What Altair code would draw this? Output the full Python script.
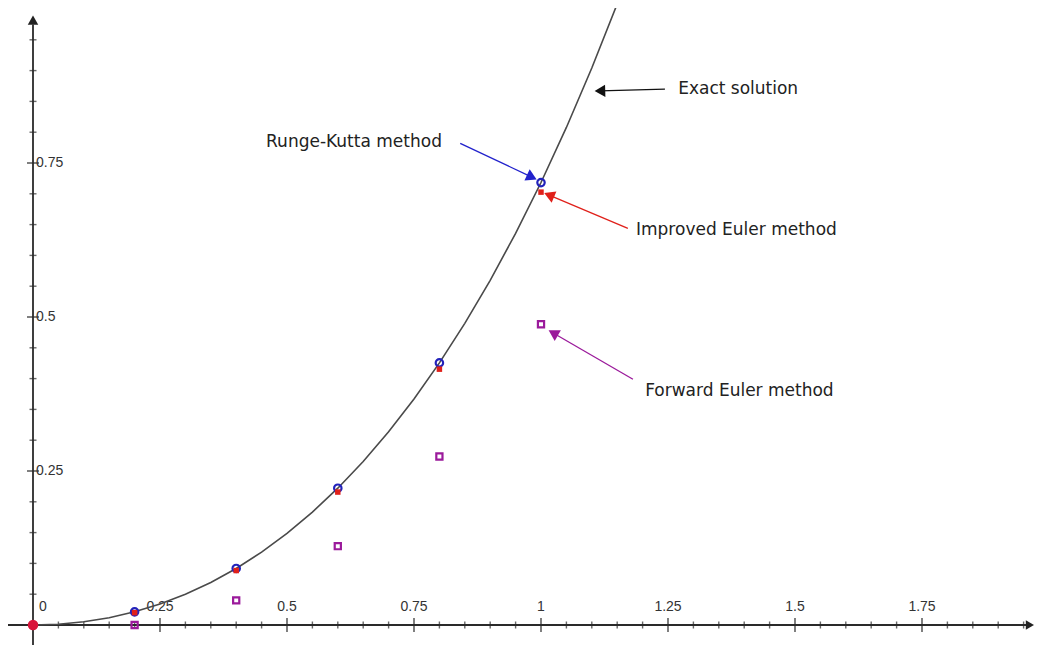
import math
import altair as alt
import pandas as pd
import numpy as np

# ---------------- data ----------------
curve_x = [0.0, 0.05, 0.1, 0.15, 0.2, 0.25, 0.3, 0.35, 0.4, 0.45, 0.5, 0.55,
           0.6, 0.65, 0.7, 0.75, 0.8, 0.85, 0.9, 0.95, 1.0, 1.05, 1.1, 1.15]
curve_y = [0.0, 0.0013, 0.0052, 0.0118, 0.0214, 0.034, 0.0499, 0.0691, 0.0918,
           0.1183, 0.1487, 0.1833, 0.2221, 0.2655, 0.3138, 0.367, 0.4255, 0.4897,
           0.5596, 0.6357, 0.7183, 0.8077, 0.9042, 1.0082]

step_x = [0.2, 0.4, 0.6, 0.8, 1.0]
rk_y = [0.0214, 0.0918, 0.2221, 0.4255, 0.7182]      # Runge-Kutta
ie_y = [0.0200, 0.0884, 0.2158, 0.4153, 0.7027]      # Improved Euler
fe_y = [0.0, 0.040, 0.128, 0.2736, 0.4883]           # Forward Euler

x_major = [0.25, 0.5, 0.75, 1.0, 1.25, 1.5, 1.75]
x_labels = ["0.25", "0.5", "0.75", "1", "1.25", "1.5", "1.75"]
y_major = [0.25, 0.5, 0.75]
y_labels = ["0.25", "0.5", "0.75"]

ann_text = ["Exact solution", "Runge-Kutta method", "Improved Euler method", "Forward Euler method"]
ann_color = ["#111111", "#2222cc", "#e0201a", "#9b1a9b"]
ann_tx = [1.270, 0.805, 1.187, 1.205]
ann_ty = [0.870, 0.784, 0.641, 0.380]
ann_align = ["left", "right", "left", "left"]
arr_x0 = [1.244, 0.841, 1.171, 1.181]
arr_y0 = [0.870, 0.782, 0.644, 0.399]
arr_x1 = [1.116, 0.982, 1.016, 1.024]
arr_y1 = [0.867, 0.727, 0.698, 0.474]

# ---------------- layout ----------------
W, H = 1026, 637
PX_X, PX_Y = 508.0, 616.0          # pixels per unit
XD = [-25 / PX_X, (W - 25) / PX_X]
YD = [-(H - 617) / PX_Y, 617 / PX_Y]
xs = alt.Scale(domain=XD, nice=False, zero=False)
ys = alt.Scale(domain=YD, nice=False, zero=False)
AX = "#2a2a2a"

def X(field="x"):
    return alt.X(f"{field}:Q", scale=xs, axis=None)

def Y(field="y"):
    return alt.Y(f"{field}:Q", scale=ys, axis=None)

# axes lines
xaxis = alt.Chart(pd.DataFrame({"x": [XD[0]], "x2": [XD[1] - 0.01], "y": [0.0]})).mark_rule(
    color=AX, strokeWidth=1.8).encode(x=X(), x2="x2:Q", y=Y())
yaxis = alt.Chart(pd.DataFrame({"x": [0.0], "y": [YD[0]], "y2": [0.975]})).mark_rule(
    color=AX, strokeWidth=1.8).encode(x=X(), y=Y(), y2="y2:Q")
yarrow = alt.Chart(pd.DataFrame({"x": [0.0], "y": [0.982]})).mark_point(
    shape="triangle-up", filled=True, color="#222222", size=110, opacity=1).encode(x=X(), y=Y())
xarrow = alt.Chart(pd.DataFrame({"x": [XD[1] - 0.008], "y": [0.0]})).mark_point(
    shape="triangle-right", filled=True, color="#222222", size=90, opacity=1).encode(x=X(), y=Y())

# ticks
minor = [round(v, 2) for v in np.arange(0.05, 1.96, 0.05)]
x_minor = [v for v in minor if abs(v / 0.25 - round(v / 0.25)) > 1e-6]
y_minor = [v for v in minor if v < 0.97 and abs(v / 0.25 - round(v / 0.25)) > 1e-6]

xminor = alt.Chart(pd.DataFrame({"x": x_minor, "y": 0.0})).mark_tick(
    orient="vertical", size=7, thickness=1.4, color=AX).encode(x=X(), y=Y())
xmajor = alt.Chart(pd.DataFrame({"x": x_major, "y": 0.0})).mark_tick(
    orient="vertical", size=14, thickness=1.7, color=AX).encode(x=X(), y=Y())
yminor = alt.Chart(pd.DataFrame({"x": 0.0, "y": y_minor})).mark_tick(
    orient="horizontal", size=7, thickness=1.4, color=AX).encode(x=X(), y=Y())
ymajor = alt.Chart(pd.DataFrame({"x": 0.0, "y": y_major})).mark_tick(
    orient="horizontal", size=12, thickness=1.7, color=AX).encode(x=X(), y=Y())

xlab = alt.Chart(pd.DataFrame({"x": x_major, "y": 0.0, "t": x_labels})).mark_text(
    dy=-18, fontSize=14, font="Liberation Sans", color="#333333", baseline="middle").encode(
    x=X(), y=Y(), text="t:N")
zerolab = alt.Chart(pd.DataFrame({"x": [0.0], "y": [0.0], "t": ["0"]})).mark_text(
    dx=10, dy=-18, fontSize=14, font="Liberation Sans", color="#333333", baseline="middle").encode(
    x=X(), y=Y(), text="t:N")
ylab = alt.Chart(pd.DataFrame({"x": 0.0, "y": y_major, "t": y_labels})).mark_text(
    dx=3, fontSize=14, font="Liberation Sans", color="#333333", align="left", baseline="middle").encode(
    x=X(), y=Y(), text="t:N")

# exact solution curve
curve = alt.Chart(pd.DataFrame({"x": curve_x, "y": curve_y})).mark_line(
    color="#4a4a4a", strokeWidth=1.6, clip=True).encode(x=X(), y=Y())

# numerical points
steps = pd.DataFrame({"x": step_x, "rk": rk_y, "ie": ie_y, "fe": fe_y})
fe = alt.Chart(steps).mark_point(shape="square", filled=False, color="#9b1a9b",
                                 size=38, strokeWidth=2.2, opacity=1).encode(x=X(), y=Y("fe"))
rk = alt.Chart(steps).mark_point(shape="circle", filled=False, color="#2222bb",
                                 size=55, strokeWidth=2.2, opacity=1).encode(x=X(), y=Y("rk"))
ie = alt.Chart(steps).mark_point(shape="square", filled=True, color="#e0201a",
                                 size=30, opacity=1).encode(x=X(), y=Y("ie"))
origin = alt.Chart(pd.DataFrame({"x": [0.0], "y": [0.0]})).mark_point(
    shape="circle", filled=True, color="#d8143a", size=110, opacity=1).encode(x=X(), y=Y())

# annotations
layers = [xaxis, yaxis, yarrow, xarrow, xminor, xmajor, yminor, ymajor, xlab, zerolab, ylab,
          curve, fe, rk, ie, origin]
for i in range(len(ann_text)):
    dxp = (arr_x1[i] - arr_x0[i]) * PX_X
    dyp = -(arr_y1[i] - arr_y0[i]) * PX_Y
    ang = math.degrees(math.atan2(dxp, -dyp)) % 360
    seg = pd.DataFrame({"x": [arr_x0[i]], "y": [arr_y0[i]], "x2": [arr_x1[i]], "y2": [arr_y1[i]]})
    layers.append(alt.Chart(seg).mark_rule(color=ann_color[i], strokeWidth=1.3).encode(
        x=X(), y=Y(), x2="x2:Q", y2="y2:Q"))
    head = pd.DataFrame({"x": [arr_x1[i]], "y": [arr_y1[i]]})
    layers.append(alt.Chart(head).mark_point(shape="triangle-up", filled=True, color=ann_color[i],
                                             size=150, opacity=1, angle=ang).encode(x=X(), y=Y()))
    lab = pd.DataFrame({"x": [ann_tx[i]], "y": [ann_ty[i]], "t": [ann_text[i]]})
    layers.append(alt.Chart(lab).mark_text(fontSize=17, font="DejaVu Sans", color="#222222",
                                           align=ann_align[i], baseline="middle").encode(
        x=X(), y=Y(), text="t:N"))

chart = alt.layer(*layers).properties(
    width=W, height=H, padding=0, autosize=alt.AutoSizeParams(type="none"),
    background="white"
).configure_view(strokeWidth=0)

chart.save("out.html", embed_options={"renderer": "svg", "actions": False})
